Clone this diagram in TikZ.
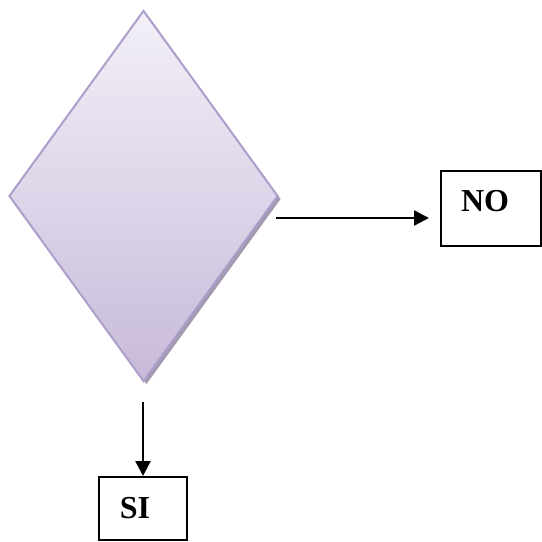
\documentclass[tikz,border=0pt]{standalone}
\usepackage{fontspec}
\setmainfont{Liberation Serif}
\usetikzlibrary{shapes.geometric,shadows,arrows.meta}
\definecolor{dtop}{HTML}{F3F0F8}
\definecolor{dbot}{HTML}{C7BAD9}
\definecolor{dline}{HTML}{AE9ECB}
\definecolor{dshadow}{HTML}{A39AB0}
\tikzset{
  decision/.style={shape=diamond, inner sep=0pt, minimum width=269pt, minimum height=371pt,
    draw=dline, line width=2pt, top color=dtop, bottom color=dbot,
    drop shadow={shadow xshift=3pt, shadow yshift=-3pt, fill=dshadow, opacity=1}},
  outbox/.style={draw=black, line width=2pt, inner sep=0pt},
  boxtext/.style={font=\bfseries\fontsize{32}{36}\selectfont, inner sep=0pt},
  link/.style={draw=black, line width=2.3pt, -{Triangle[length=15pt,width=15pt]}}
}
\begin{document}
\begin{tikzpicture}[x=1pt,y=-1pt]
\useasboundingbox (0,0) rectangle (542,542);
\node[decision] (dec) at (143.5,196) {};
\node[outbox, minimum width=100pt, minimum height=75pt] (nobox) at (490.5,208.5) {};
\node[boxtext] (notext) at (485,201) {NO};
\node[outbox, minimum width=88pt, minimum height=63pt] (sibox) at (143,508.5) {};
\node[boxtext] (sitext) at (135,508) {SI};
\coordinate (hs) at (276,218);
\coordinate (he) at (429,218);
\coordinate (vs) at (143,402);
\draw[link] (hs) -- (he);
\draw[link] (vs) -- (sibox.north);
\end{tikzpicture}
\end{document}
